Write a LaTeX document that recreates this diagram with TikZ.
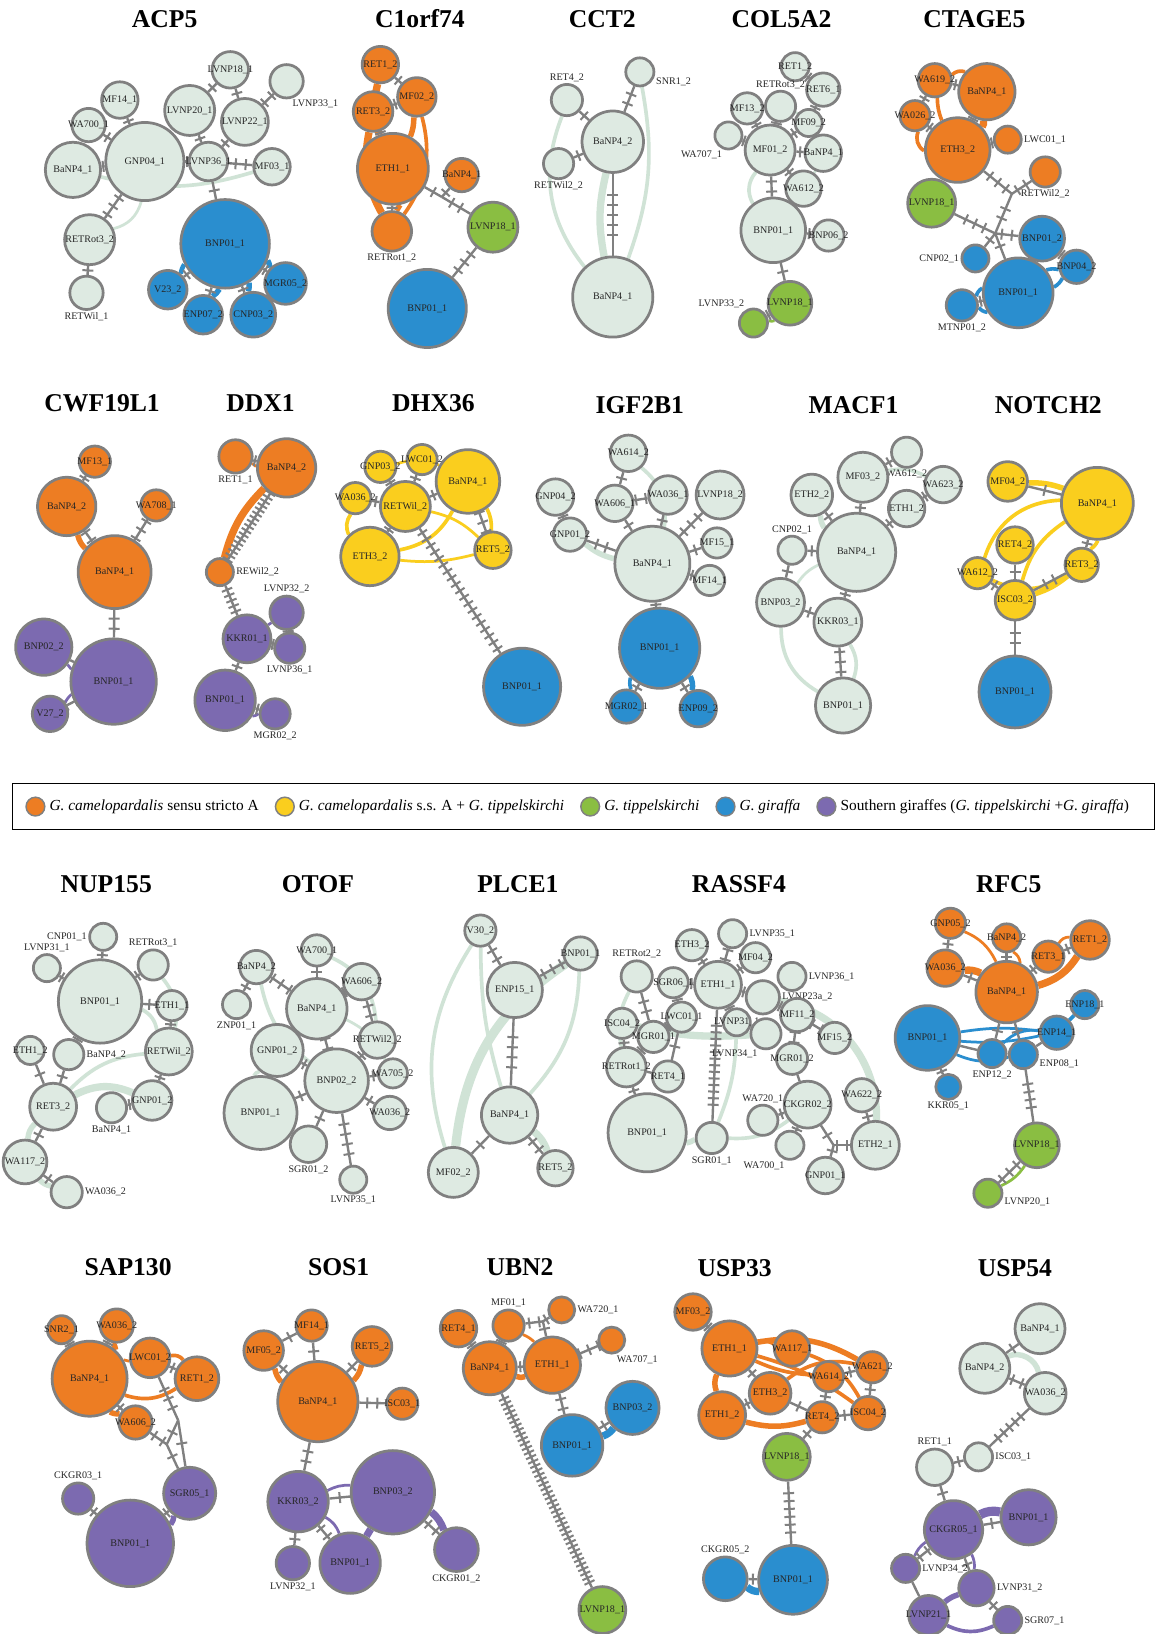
\documentclass[tikz,border=0pt]{standalone}
\usepackage{fontspec}
\setmainfont{Liberation Serif}
\usepackage{tikz}
\usetikzlibrary{positioning, backgrounds, decorations.markings}

\definecolor{lightcolor}{RGB}{222,234,226}
\definecolor{lightline}{RGB}{208,227,214}
\definecolor{orangecolor}{RGB}{237,125,35}
\definecolor{yellowcolor}{RGB}{250,206,30}
\definecolor{greencolor}{RGB}{138,190,66}
\definecolor{bluecolor}{RGB}{42,142,207}
\definecolor{purplecolor}{RGB}{124,106,176}
\definecolor{edgecolor}{RGB}{128,128,128}

\newcommand\labfont{\fontsize{5.5}{6}\selectfont}
\newcommand\genefont{\fontsize{14}{16}\selectfont\bfseries}
\newcommand\legfont{\fontsize{8.4}{10}\selectfont}

\tikzset{
  hap/.style={circle, draw=edgecolor, line width=1.5pt, inner sep=0pt, minimum size=#1*0.02cm},
  hl/.style={hap=#1, fill=lightcolor},
  ho/.style={hap=#1, fill=orangecolor},
  hy/.style={hap=#1, fill=yellowcolor},
  hg/.style={hap=#1, fill=greencolor},
  hb/.style={hap=#1, fill=bluecolor},
  hp/.style={hap=#1, fill=purplecolor},
  every label/.style={font=\labfont, inner sep=0.6pt, text=black!85},
  gene/.style={font=\genefont},
  legtext/.style={font=\legfont, inner sep=0pt},
  grayline/.style={draw=edgecolor, line width=1.3pt},
  tickline/.style={draw=edgecolor, line width=1.1pt},
  mut/.style 2 args={postaction={decorate, decoration={markings, mark=at position 0.5 with {\foreach \k in {1,...,#1} {\draw[tickline] ({(\k-(#1+1)/2)*#2},-3pt) -- ({(\k-(#1+1)/2)*#2},3pt);}}}}},
  mt/.style={grayline, mut={#1}{5.5pt}},
  mtd/.style={grayline, mut={#1}{2.7pt}},
  lline/.style={draw=lightline, line width=#1}, lline/.default=1.5pt,
  oline/.style={draw=orangecolor, line width=#1}, oline/.default=1.5pt,
  yline/.style={draw=yellowcolor, line width=#1}, yline/.default=1.5pt,
  gline/.style={draw=greencolor, line width=#1}, gline/.default=1.5pt,
  bline/.style={draw=bluecolor, line width=#1}, bline/.default=1.5pt,
  pline/.style={draw=purplecolor, line width=#1}, pline/.default=1.5pt,
}

\begin{document}
\begin{tikzpicture}[x=0.02cm, y=-0.02cm]
  \begin{scope}[on background layer]
    \fill[white] (0,0) rectangle (1115,1568);
  \end{scope}
  \useasboundingbox (0,0) rectangle (1115,1568);

  % ACP5
  \node[gene] (g-acp5) at (158,18) {ACP5};
  \node[hl=35, label=center:LVNP18\_1] (a-lvnp18) at (221,67) {};
  \node[hl=32, label=-75:LVNP33\_1] (a-lvnp33) at (275,78) {};
  \node[hl=35, label=center:MF14\_1] (a-mf14) at (115,96) {};
  \node[hl=32, label=center:WA700\_1] (a-wa700) at (85,120) {};
  \node[hl=48, label=center:LVNP20\_1] (a-lvnp20) at (182,106) {};
  \node[hl=45, label=center:LVNP22\_1] (a-lvnp22) at (235,117) {};
  \node[hl=75, label=center:GNP04\_1] (a-gnp04) at (139,155) {};
  \node[hl=53, label=center:BaNP4\_1] (a-banp4) at (70,163) {};
  \node[hl=37, label=center:LVNP36\_1] (a-lvnp36) at (200,155) {};
  \node[hl=35, label=center:MF03\_1] (a-mf03) at (261,160) {};
  \node[hl=48, label=center:RETRot3\_2] (a-retrot3) at (86,230) {};
  \node[hl=32, label=below:RETWil\_1] (a-retwil) at (83,281) {};
  \node[hb=85, label=center:BNP01\_1] (a-bnp01) at (216,234) {};
  \node[hb=37, label=center:V23\_2] (a-v23) at (161,278) {};
  \node[hb=37, label=center:ENP07\_2] (a-enp07) at (195,302) {};
  \node[hb=43, label=center:CNP03\_2] (a-cnp03) at (243,302) {};
  \node[hb=40, label=center:MGR05\_2] (a-mgr05) at (274,272) {};
  \begin{scope}[on background layer]
    \draw[lline=2pt] (a-banp4) to[bend right=15] (a-mf03);
    \draw[lline] (a-gnp04) to[bend left=30] (a-retrot3);
    \draw[bline=2.5pt] (a-bnp01) to[bend right=12] (a-v23);
    \draw[bline=3pt] (a-bnp01) to[bend left=10] (a-enp07);
    \draw[bline=3pt] (a-bnp01) to[bend left=10] (a-cnp03);
    \draw[bline=3pt] (a-bnp01) to[bend left=12] (a-mgr05);
    \draw[mt=1] (a-gnp04) -- (a-banp4);
    \draw[mt=1] (a-gnp04) -- (a-wa700);
    \draw[mt=1] (a-gnp04) -- (a-mf14);
    \draw[mt=1] (a-gnp04) -- (a-lvnp36);
    \draw[mt=3] (a-gnp04) -- (a-retrot3);
    \draw[mt=1] (a-retrot3) -- (a-retwil);
    \draw[mt=1] (a-lvnp36) -- (a-lvnp20);
    \draw[mt=1] (a-lvnp36) -- (a-lvnp22);
    \draw[mt=1] (a-lvnp18) -- (a-lvnp20);
    \draw[mt=1] (a-lvnp18) -- (a-lvnp22);
    \draw[mt=2] (a-lvnp22) -- (a-lvnp33);
    \draw[mt=2] (a-lvnp36) -- (a-mf03);
    \draw[mt=1] (a-lvnp36) -- (a-bnp01);
    \draw[mt=1] (a-bnp01) -- (a-v23);
    \draw[mt=1] (a-bnp01) -- (a-enp07);
    \draw[mt=1] (a-bnp01) -- (a-cnp03);
    \draw[mt=1] (a-bnp01) -- (a-mgr05);
  \end{scope}

  % C1orf74
  \node[gene] (g-c1orf74) at (403,18) {C1orf74};
  \node[ho=35, label=center:RET1\_2] (c-ret12) at (365,62) {};
  \node[ho=37, label=center:MF02\_2] (c-mf02) at (400,93) {};
  \node[ho=38, label=center:RET3\_2] (c-ret32) at (358,107) {};
  \node[ho=68, label=center:ETH1\_1] (c-eth1) at (377,162) {};
  \node[ho=32, label=center:BaNP4\_1] (c-banp4) at (443,168) {};
  \node[ho=38, label=below:RETRot1\_2] (c-retrot1) at (376,222) {};
  \node[hg=48, label=center:LVNP18\_1] (c-lvnp18) at (473,218) {};
  \node[hb=75, label=center:BNP01\_1] (c-bnp01) at (410,296) {};
  \coordinate (c-j) at (424,189);
  \begin{scope}[on background layer]
    \draw[oline=4pt] (c-ret12) to[bend right=15] (c-eth1);
    \draw[oline=4pt] (c-ret32) to[bend right=20] (c-retrot1);
    \draw[oline=3pt] (c-mf02) to[bend left=10] (c-eth1);
    \draw[oline=2pt] (c-mf02) to[bend left=25] (c-retrot1);
    \draw[oline=3pt] (c-eth1) to[bend left=12] (c-retrot1);
    \draw[mt=1] (c-ret12) -- (c-mf02);
    \draw[mt=1] (c-ret32) -- (c-mf02);
    \draw[mt=1] (c-ret32) -- (c-eth1);
    \draw[mt=1] (c-eth1) -- (c-retrot1);
    \draw[mt=1] (c-eth1) -- (c-j);
    \draw[mt=1] (c-banp4) -- (c-j);
    \draw[mt=2] (c-j) -- (c-lvnp18);
    \draw[mt=3] (c-lvnp18) -- (c-bnp01);
  \end{scope}

  % CCT2
  \node[gene] (g-cct2) at (578,18) {CCT2};
  \node[hl=30, label=above:RET4\_2] (t-ret4) at (544,96) {};
  \node[hl=27, label=-15:SNR1\_2] (t-snr1) at (614,69) {};
  \node[hl=29, label=below:RETWil2\_2] (t-retwil2) at (536,157) {};
  \node[hl=59, label=center:BaNP4\_2] (t-banp42) at (588,136) {};
  \node[hl=77, label=center:BaNP4\_1] (t-banp41) at (588,285) {};
  \begin{scope}[on background layer]
    \draw[lline=4pt] (t-banp42) to[bend right=12] (t-banp41);
    \draw[lline=2pt] (t-ret4) to[bend right=30] (t-banp41);
    \draw[lline=2pt] (t-snr1) to[bend left=15] (t-banp41);
    \draw[mt=1] (t-banp42) -- (t-ret4);
    \draw[mt=1] (t-banp42) -- (t-retwil2);
    \draw[mt=2] (t-banp42) -- (t-snr1);
    \draw[mt=5] (t-banp42) -- (t-banp41);
  \end{scope}

  % COL5A2
  \node[gene] (g-col5a2) at (750,18) {COL5A2};
  \node[hl=27, label=center:RET1\_2] (k-ret1) at (763,64) {};
  \node[hl=32, label=center:RET6\_1] (k-ret6) at (790,86) {};
  \node[hl=29, label=above:RETRot3\_2] (k-retrot3) at (749,102) {};
  \node[hl=30, label=center:MF13\_2] (k-mf13) at (717,104) {};
  \node[hl=26, label=-110:WA707\_1] (k-wa707) at (699,130) {};
  \node[hl=26, label=center:MF09\_2] (k-mf09) at (776,118) {};
  \node[hl=48, label=center:MF01\_2] (k-mf01) at (739,144) {};
  \node[hl=35, label=center:BaNP4\_1] (k-banp4) at (790,147) {};
  \node[hl=34, label=center:WA612\_2] (k-wa612) at (771,181) {};
  \node[hl=62, label=center:BNP01\_1] (k-bnp01) at (742,221) {};
  \node[hl=30, label=center:BNP06\_2] (k-bnp06) at (795,226) {};
  \node[hg=42, label=center:LVNP18\_1] (k-lvnp18) at (758,291) {};
  \node[hg=27, label=120:LVNP33\_2] (k-lvnp33) at (723,310) {};
  \begin{scope}[on background layer]
    \draw[lline=2pt] (k-mf01) to[bend right=35] (k-bnp01);
    \draw[lline] (k-retrot3) to[bend left=25] (k-banp4);
    \draw[lline] (k-mf09) to[bend left=30] (k-wa612);
    \draw[gline] (k-lvnp18) to[bend left=20] (k-lvnp33);
    \draw[mt=1] (k-mf01) -- (k-mf13);
    \draw[mt=1] (k-mf01) -- (k-wa707);
    \draw[mt=1] (k-mf01) -- (k-retrot3);
    \draw[mt=1] (k-mf01) -- (k-mf09);
    \draw[mt=1] (k-mf09) -- (k-ret6);
    \draw[mt=1] (k-ret6) -- (k-ret1);
    \draw[mt=1] (k-mf01) -- (k-banp4);
    \draw[mt=1] (k-mf01) -- (k-wa612);
    \draw[mt=2] (k-mf01) -- (k-bnp01);
    \draw[mt=1] (k-bnp01) -- (k-bnp06);
    \draw[mt=1] (k-bnp01) -- (k-lvnp18);
    \draw[mt=1] (k-lvnp18) -- (k-lvnp33);
  \end{scope}

  % CTAGE5
  \node[gene] (g-ctage5) at (935,18) {CTAGE5};
  \node[ho=32, label=center:WA619\_2] (e-wa619) at (897,77) {};
  \node[ho=54, label=center:BaNP4\_1] (e-banp4) at (947,88) {};
  \node[ho=29, label=center:WA026\_2] (e-wa026) at (878,111) {};
  \node[ho=62, label=center:ETH3\_2] (e-eth3) at (919,144) {};
  \node[ho=26, label=right:LWC01\_1] (e-lwc01) at (967,134) {};
  \node[ho=29, label=below:RETWil2\_2] (e-retwil2) at (1003,165) {};
  \node[hg=46, label=center:LVNP18\_1] (e-lvnp18) at (894,195) {};
  \node[hb=43, label=center:BNP01\_2] (e-bnp012) at (1000,229) {};
  \node[hb=26, label=left:CNP02\_1] (e-cnp02) at (936,248) {};
  \node[hb=32, label=center:BNP04\_2] (e-bnp042) at (1033,256) {};
  \node[hb=67, label=center:BNP01\_1] (e-bnp011) at (977,281) {};
  \node[hb=30, label=below:MTNP01\_2] (e-mtnp01) at (923,293) {};
  \coordinate (e-j1) at (971,186);
  \coordinate (e-j2) at (955,224);
  \begin{scope}[on background layer]
    \draw[oline=2pt] (e-wa619) to[bend right=10] (e-eth3);
    \draw[oline=2pt] (e-wa026) to[bend right=40] (e-eth3);
    \draw[oline=4pt] (e-banp4) to[bend left=20] (e-eth3);
    \draw[oline=2pt] (e-wa619) to[bend left=30] (e-banp4);
    \draw[bline=2pt] (e-bnp011) to[bend right=15] (e-bnp042);
    \draw[bline=2pt] (e-bnp011) to[bend left=15] (e-bnp042);
    \draw[bline=2pt] (e-bnp011) to[bend left=20] (e-mtnp01);
    \draw[bline=2pt] (e-bnp011) to[bend right=20] (e-mtnp01);
    \draw[mt=1] (e-wa619) -- (e-banp4);
    \draw[mt=1] (e-wa619) -- (e-wa026);
    \draw[mt=1] (e-wa026) -- (e-eth3);
    \draw[mt=1] (e-eth3) -- (e-banp4);
    \draw[mt=1] (e-eth3) -- (e-lwc01);
    \draw[mt=3] (e-eth3) -- (e-j1);
    \draw[mt=2] (e-j1) -- (e-retwil2);
    \draw[mt=2] (e-j1) -- (e-j2);
    \draw[mt=3] (e-lvnp18) -- (e-j2);
    \draw[mt=2] (e-j2) -- (e-bnp012);
    \draw[mt=1] (e-j2) -- (e-cnp02);
    \draw[mt=1] (e-j2) -- (e-bnp011);
    \draw[mt=1] (e-bnp011) -- (e-mtnp01);
    \draw[mt=1] (e-bnp012) -- (e-bnp042);
  \end{scope}

  % CWF19L1
  \node[gene] (g-cwf19l1) at (98,387) {CWF19L1};
  \node[ho=30, label=center:MF13\_1] (w-mf13) at (91,443) {};
  \node[ho=56, label=center:BaNP4\_2] (w-banp42) at (64,486) {};
  \node[ho=30, label=center:WA708\_1] (w-wa708) at (150,485) {};
  \node[ho=70, label=center:BaNP4\_1] (w-banp41) at (110,549) {};
  \node[hp=54, label=center:BNP02\_2] (w-bnp02) at (42,621) {};
  \node[hp=82, label=center:BNP01\_1] (w-bnp01) at (109,654) {};
  \node[hp=34, label=center:V27\_2] (w-v27) at (48,685) {};
  \begin{scope}[on background layer]
    \draw[oline=3pt] (w-banp42) to[bend right=15] (w-banp41);
    \draw[pline] (w-bnp01) to[bend left=10] (w-bnp02);
    \draw[pline] (w-bnp01) to[bend right=10] (w-v27);
    \draw[mt=1] (w-banp42) -- (w-mf13);
    \draw[mt=2] (w-banp42) -- (w-banp41);
    \draw[mt=3] (w-banp41) -- (w-wa708);
    \draw[mt=2] (w-banp41) -- (w-bnp01);
    \draw[mt=2] (w-bnp01) -- (w-bnp02);
    \draw[mt=2] (w-bnp01) -- (w-v27);
  \end{scope}

  % DDX1
  \node[gene] (g-ddx1) at (250,387) {DDX1};
  \node[ho=32, label=below:RET1\_1] (d-ret1) at (226,438) {};
  \node[ho=56, label=center:BaNP4\_2] (d-banp42) at (275,449) {};
  \node[ho=26, label=right:REWil2\_2] (d-rewil2) at (211,549) {};
  \node[hp=46, label=center:KKR01\_1] (d-kkr01) at (237,613) {};
  \node[hp=32, label=above:LVNP32\_2] (d-lvnp32) at (275,588) {};
  \node[hp=29, label=below:LVNP36\_1] (d-lvnp36) at (278,622) {};
  \node[hp=58, label=center:BNP01\_1] (d-bnp01) at (216,672) {};
  \node[hp=29, label=below:MGR02\_2] (d-mgr02) at (264,685) {};
  \begin{scope}[on background layer]
    \draw[oline] (d-ret1) to[bend right=10] (d-banp42);
    \draw[oline=4pt] (d-rewil2) to[bend left=15] (d-banp42);
    \draw[pline] (d-kkr01) -- (d-lvnp32);
    \draw[pline] (d-bnp01) to[bend right=15] (d-mgr02);
    \draw[mt=1] (d-ret1) -- (d-banp42);
    \draw[mtd=17] (d-banp42) -- (d-rewil2);
    \draw[grayline, mut={5}{3.2pt}] (d-rewil2) -- (d-kkr01);
    \draw[mt=1] (d-kkr01) -- (d-lvnp36);
    \draw[mt=1] (d-lvnp32) -- (d-lvnp36);
    \draw[mt=1] (d-kkr01) -- (d-bnp01);
    \draw[mt=1] (d-bnp01) -- (d-mgr02);
  \end{scope}

  % DHX36
  \node[gene] (g-dhx36) at (416,387) {DHX36};
  \node[hy=30, label=center:GNP03\_2] (h-gnp03) at (365,448) {};
  \node[hy=29, label=center:LWC01\_2] (h-lwc01) at (405,441) {};
  \node[hy=30, label=center:WA036\_2] (h-wa036) at (341,478) {};
  \node[hy=48, label=center:RETWil\_2] (h-retwil) at (389,486) {};
  \node[hy=61, label=center:BaNP4\_1] (h-banp4) at (449,462) {};
  \node[hy=56, label=center:ETH3\_2] (h-eth3) at (355,534) {};
  \node[hy=35, label=center:RET5\_2] (h-ret5) at (473,528) {};
  \node[hb=74, label=center:BNP01\_1] (h-bnp01) at (501,659) {};
  \begin{scope}[on background layer]
    \draw[yline] (h-gnp03) to[bend left=20] (h-banp4);
    \draw[yline=2pt] (h-wa036) to[bend right=30] (h-eth3);
    \draw[yline=2pt] (h-eth3) to[bend right=25] (h-banp4);
    \draw[yline] (h-eth3) to[bend right=10] (h-ret5);
    \draw[yline] (h-retwil) to[bend left=15] (h-ret5);
    \draw[yline=2pt] (h-banp4) to[bend left=15] (h-ret5);
    \draw[mt=1] (h-gnp03) -- (h-retwil);
    \draw[mt=1] (h-lwc01) -- (h-retwil);
    \draw[mt=1] (h-wa036) -- (h-retwil);
    \draw[mt=1] (h-retwil) -- (h-banp4);
    \draw[mt=1] (h-retwil) -- (h-eth3);
    \draw[mt=3] (h-banp4) -- (h-ret5);
    \draw[grayline, mut={19}{4.2pt}] (h-retwil) -- (h-bnp01);
  \end{scope}

  % IGF2B1
  \node[gene] (g-igf2b1) at (614,389) {IGF2B1};
  \node[hl=35, label=center:WA614\_2] (i-wa614) at (603,435) {};
  \node[hl=35, label=center:GNP04\_2] (i-gnp04) at (533,477) {};
  \node[hl=35, label=center:WA606\_1] (i-wa606) at (590,483) {};
  \node[hl=37, label=center:WA036\_1] (i-wa036) at (641,475) {};
  \node[hl=46, label=center:LVNP18\_2] (i-lvnp18) at (691,475) {};
  \node[hl=32, label=center:GNP01\_2] (i-gnp01) at (547,513) {};
  \node[hl=72, label=center:BaNP4\_1] (i-banp4) at (626,541) {};
  \node[hl=29, label=center:MF15\_1] (i-mf15) at (688,521) {};
  \node[hl=29, label=center:MF14\_1] (i-mf14) at (681,557) {};
  \node[hb=77, label=center:BNP01\_1] (i-bnp01) at (633,622) {};
  \node[hb=32, label=center:MGR02\_1] (i-mgr02) at (601,678) {};
  \node[hb=35, label=center:ENP09\_2] (i-enp09) at (670,680) {};
  \begin{scope}[on background layer]
    \draw[lline=2pt] (i-wa614) to[bend left=30] (i-banp4);
    \draw[lline=3pt] (i-gnp01) to[bend right=12] (i-banp4);
    \draw[bline=2pt] (i-bnp01) to[bend right=15] (i-mgr02);
    \draw[bline=3pt] (i-bnp01) to[bend left=15] (i-enp09);
    \draw[mt=1] (i-wa614) -- (i-wa606);
    \draw[mt=2] (i-wa606) -- (i-wa036);
    \draw[mt=1] (i-wa606) -- (i-banp4);
    \draw[mt=1] (i-wa036) -- (i-banp4);
    \draw[mt=3] (i-lvnp18) -- (i-banp4);
    \draw[mt=1] (i-mf15) -- (i-banp4);
    \draw[mt=1] (i-mf14) -- (i-banp4);
    \draw[mt=1] (i-gnp04) -- (i-gnp01);
    \draw[mt=2] (i-gnp01) -- (i-banp4);
    \draw[mt=1] (i-banp4) -- (i-bnp01);
    \draw[mt=1] (i-bnp01) -- (i-mgr02);
    \draw[mt=1] (i-bnp01) -- (i-enp09);
  \end{scope}

  % MACF1
  \node[gene] (g-macf1) at (819,389) {MACF1};
  \node[hl=29, label=below:WA612\_2] (m-wa612) at (870,434) {};
  \node[hl=48, label=center:MF03\_2] (m-mf03) at (828,458) {};
  \node[hl=35, label=center:WA623\_2] (m-wa623) at (905,465) {};
  \node[hl=40, label=center:ETH2\_2] (m-eth2) at (779,475) {};
  \node[hl=35, label=center:ETH1\_2] (m-eth1) at (870,488) {};
  \node[hl=27, label=above:CNP02\_1] (m-cnp02) at (760,528) {};
  \node[hl=75, label=center:BaNP4\_1] (m-banp4) at (822,530) {};
  \node[hl=46, label=center:BNP03\_2] (m-bnp03) at (749,578) {};
  \node[hl=46, label=center:KKR03\_1] (m-kkr03) at (804,597) {};
  \node[hl=53, label=center:BNP01\_1] (m-bnp01) at (809,677) {};
  \begin{scope}[on background layer]
    \draw[lline=2pt] (m-bnp03) to[bend right=30] (m-bnp01);
    \draw[lline=2pt] (m-kkr03) to[bend left=25] (m-bnp01);
    \draw[lline=3pt] (m-eth2) to[bend right=15] (m-banp4);
    \draw[lline=2pt] (m-mf03) to[bend left=20] (m-wa623);
    \draw[lline] (m-bnp03) to[bend left=15] (m-banp4);
    \draw[mt=1] (m-mf03) -- (m-wa612);
    \draw[mt=1] (m-mf03) -- (m-banp4);
    \draw[mt=1] (m-wa623) -- (m-eth1);
    \draw[mt=1] (m-eth1) -- (m-banp4);
    \draw[mt=1] (m-eth2) -- (m-banp4);
    \draw[mt=1] (m-cnp02) -- (m-banp4);
    \draw[mt=1] (m-cnp02) -- (m-bnp03);
    \draw[mt=1] (m-bnp03) -- (m-kkr03);
    \draw[mt=1] (m-banp4) -- (m-kkr03);
    \draw[mt=3] (m-kkr03) -- (m-bnp01);
  \end{scope}

  % NOTCH2
  \node[gene] (g-notch2) at (1006,389) {NOTCH2};
  \node[hy=38, label=center:MF04\_2] (n-mf04) at (967,462) {};
  \node[hy=69, label=center:BaNP4\_1] (n-banp4) at (1053,483) {};
  \node[hy=35, label=center:RET4\_2] (n-ret4) at (974,523) {};
  \node[hy=30, label=center:WA612\_2] (n-wa612) at (938,550) {};
  \node[hy=32, label=center:RET3\_2] (n-ret3) at (1038,542) {};
  \node[hy=38, label=center:ISC03\_2] (n-isc03) at (974,576) {};
  \node[hb=69, label=center:BNP01\_1] (n-bnp01) at (974,664) {};
  \begin{scope}[on background layer]
    \draw[yline=3pt] (n-mf04) to[bend left=10] (n-banp4);
    \draw[yline=2pt] (n-banp4) to[bend left=15] (n-ret3);
    \draw[yline=3pt] (n-isc03) to[bend right=10] (n-ret3);
    \draw[yline=2pt] (n-banp4) to[bend right=35] (n-wa612);
    \draw[yline=2pt] (n-banp4) to[bend right=20] (n-isc03);
    \draw[yline=2pt] (n-wa612) to[bend right=30] (n-ret3);
    \draw[mt=1] (n-mf04) -- (n-banp4);
    \draw[mt=1] (n-banp4) -- (n-ret3);
    \draw[mt=1] (n-ret4) -- (n-isc03);
    \draw[mt=1] (n-wa612) -- (n-isc03);
    \draw[mt=2] (n-isc03) -- (n-ret3);
    \draw[mt=2] (n-isc03) -- (n-bnp01);
  \end{scope}

  % Legend
  \node[draw, line width=0.9pt, minimum width=1096*0.02cm, minimum height=44*0.02cm, inner sep=0pt] (legend) at (560,774) {};
  \node[ho=18, line width=0.8pt] (key-o) at (34,774) {};
  \node[legtext, right=0.07cm of key-o] (key-o-text) {\textit{G. camelopardalis} sensu stricto A};
  \node[hy=18, line width=0.8pt, right=0.3cm of key-o-text] (key-y) {};
  \node[legtext, right=0.07cm of key-y] (key-y-text) {\textit{G. camelopardalis} s.s. A + \textit{G. tippelskirchi}};
  \node[hg=18, line width=0.8pt, right=0.3cm of key-y-text] (key-g) {};
  \node[legtext, right=0.07cm of key-g] (key-g-text) {\textit{G. tippelskirchi}};
  \node[hb=18, line width=0.8pt, right=0.3cm of key-g-text] (key-b) {};
  \node[legtext, right=0.07cm of key-b] (key-b-text) {\textit{G. giraffa}};
  \node[hp=18, line width=0.8pt, right=0.3cm of key-b-text] (key-p) {};
  \node[legtext, right=0.07cm of key-p] (key-p-text) {Southern giraffes (\textit{G. tippelskirchi} +\textit{G. giraffa})};

  % NUP155
  \node[gene] (g-nup155) at (102,848) {NUP155};
  \node[hl=26, label=left:CNP01\_1] (u-cnp01) at (99,899) {};
  \node[hl=26, label=above:LVNP31\_1] (u-lvnp31) at (45,929) {};
  \node[hl=29, label=above:RETRot3\_1] (u-retrot3) at (147,926) {};
  \node[hl=80, label=center:BNP01\_1] (u-bnp01) at (96,961) {};
  \node[hl=29, label=center:ETH1\_1] (u-eth11) at (165,965) {};
  \node[hl=27, label=center:ETH1\_2] (u-eth12) at (29,1008) {};
  \node[hl=29, label=right:BaNP4\_2] (u-banp42) at (66,1012) {};
  \node[hl=45, label=center:RETWil\_2] (u-retwil) at (162,1009) {};
  \node[hl=45, label=center:RET3\_2] (u-ret3) at (51,1062) {};
  \node[hl=29, label=below:BaNP4\_1] (u-banp41) at (107,1063) {};
  \node[hl=38, label=center:GNP01\_2] (u-gnp01) at (146,1056) {};
  \node[hl=42, label=center:WA117\_2] (u-wa117) at (24,1115) {};
  \node[hl=30, label=right:WA036\_2] (u-wa036) at (64,1144) {};
  \begin{scope}[on background layer]
    \draw[lline=4pt] (u-ret3) to[bend left=25] (u-gnp01);
    \draw[lline=2pt] (u-ret3) to[bend left=20] (u-retwil);
    \draw[lline=2pt] (u-bnp01) to[bend left=25] (u-retwil);
    \draw[lline=2pt] (u-retrot3) to[bend left=25] (u-retwil);
    \draw[lline=3pt] (u-ret3) to[bend right=20] (u-wa117);
    \draw[lline=3pt] (u-wa117) to[bend right=15] (u-wa036);
    \draw[mt=1] (u-bnp01) -- (u-cnp01);
    \draw[mt=1] (u-bnp01) -- (u-lvnp31);
    \draw[mt=1] (u-bnp01) -- (u-retrot3);
    \draw[mt=1] (u-bnp01) -- (u-eth11);
    \draw[mt=1] (u-eth11) -- (u-retwil);
    \draw[mt=1] (u-bnp01) -- (u-banp42);
    \draw[mt=1] (u-banp42) -- (u-ret3);
    \draw[mt=1] (u-eth12) -- (u-ret3);
    \draw[mt=1] (u-retwil) -- (u-gnp01);
    \draw[mt=1] (u-gnp01) -- (u-banp41);
    \draw[mt=1] (u-ret3) -- (u-wa117);
    \draw[mt=1] (u-wa117) -- (u-wa036);
  \end{scope}

  % OTOF
  \node[gene] (g-otof) at (305,848) {OTOF};
  \node[hl=30, label=center:WA700\_1] (o-wa700) at (304,912) {};
  \node[hl=32, label=center:BaNP4\_2] (o-banp42) at (246,928) {};
  \node[hl=35, label=center:WA606\_2] (o-wa606) at (347,942) {};
  \node[hl=27, label=below:ZNP01\_1] (o-znp01) at (227,964) {};
  \node[hl=58, label=center:BaNP4\_1] (o-banp41) at (304,968) {};
  \node[hl=35, label=center:RETWil2\_2] (o-retwil2) at (362,998) {};
  \node[hl=50, label=center:GNP01\_2] (o-gnp01) at (266,1008) {};
  \node[hl=61, label=center:BNP02\_2] (o-bnp02) at (323,1037) {};
  \node[hl=28, label=center:WA705\_2] (o-wa705) at (377,1030) {};
  \node[hl=32, label=center:WA036\_2] (o-wa036) at (374,1068) {};
  \node[hl=70, label=center:BNP01\_1] (o-bnp01) at (250,1068) {};
  \node[hl=35, label=below:SGR01\_2] (o-sgr01) at (296,1098) {};
  \node[hl=26, label=below:LVNP35\_1] (o-lvnp35) at (339,1132) {};
  \begin{scope}[on background layer]
    \draw[lline=2pt] (o-banp42) to[bend right=20] (o-bnp02);
    \draw[lline=2pt] (o-wa700) to[bend left=30] (o-retwil2);
    \draw[lline] (o-banp41) to[bend left=20] (o-wa705);
    \draw[lline=2pt] (o-gnp01) to[bend right=25] (o-bnp01);
    \draw[mt=1] (o-banp42) -- (o-znp01);
    \draw[mt=3] (o-banp42) -- (o-banp41);
    \draw[mt=1] (o-wa700) -- (o-banp41);
    \draw[mt=1] (o-wa606) -- (o-banp41);
    \draw[mt=2] (o-wa606) -- (o-retwil2);
    \draw[mt=2] (o-banp41) -- (o-bnp02);
    \draw[mt=1] (o-retwil2) -- (o-bnp02);
    \draw[mt=1] (o-gnp01) -- (o-bnp02);
    \draw[mt=1] (o-bnp01) -- (o-bnp02);
    \draw[mt=1] (o-wa705) -- (o-bnp02);
    \draw[mt=1] (o-wa036) -- (o-bnp02);
    \draw[mt=1] (o-sgr01) -- (o-bnp02);
    \draw[mt=4] (o-bnp02) -- (o-lvnp35);
  \end{scope}

  % PLCE1
  \node[gene] (g-plce1) at (497,848) {PLCE1};
  \node[hl=30, label=center:V30\_2] (p-v30) at (461,893) {};
  \node[hl=32, label=center:BNP01\_1] (p-bnp01) at (557,915) {};
  \node[hl=53, label=center:ENP15\_1] (p-enp15) at (494,950) {};
  \node[hl=54, label=center:BaNP4\_1] (p-banp4) at (489,1070) {};
  \node[hl=48, label=center:MF02\_2] (p-mf02) at (435,1125) {};
  \node[hl=34, label=center:RET5\_2] (p-ret5) at (533,1121) {};
  \begin{scope}[on background layer]
    \draw[lline=2pt] (p-v30) to[bend right=25] (p-mf02);
    \draw[lline=2pt] (p-v30) to[bend right=8] (p-banp4);
    \draw[lline=5pt] (p-bnp01) to[bend right=25] (p-mf02);
    \draw[lline=2pt] (p-bnp01) to[bend left=20] (p-banp4);
    \draw[lline=4pt] (p-banp4) to[bend left=15] (p-ret5);
    \draw[mt=2] (p-v30) -- (p-enp15);
    \draw[mt=3] (p-enp15) -- (p-bnp01);
    \draw[mt=4] (p-enp15) -- (p-banp4);
    \draw[mt=1] (p-banp4) -- (p-mf02);
    \draw[mt=2] (p-banp4) -- (p-ret5);
  \end{scope}

  % RASSF4
  \node[gene] (g-rassf4) at (709,848) {RASSF4};
  \node[hl=27, label=right:LVNP35\_1] (r-lvnp35) at (703,896) {};
  \node[hl=30, label=center:ETH3\_2] (r-eth3) at (664,907) {};
  \node[hl=29, label=center:MF04\_2] (r-mf04) at (725,919) {};
  \node[hl=30, label=above:RETRot2\_2] (r-retrot2) at (611,937) {};
  \node[hl=29, label=center:SGR06\_1] (r-sgr06) at (646,943) {};
  \node[hl=45, label=center:ETH1\_1] (r-eth1) at (689,945) {};
  \node[hl=27, label=right:LVNP36\_1] (r-lvnp36) at (760,937) {};
  \node[hl=32, label=right:LVNP23a\_2] (r-lvnp23a) at (732,957) {};
  \node[hl=29, label=center:LWC01\_1] (r-lwc01) at (654,976) {};
  \node[hl=29, label=center:ISC04\_2] (r-isc04) at (597,982) {};
  \node[hl=26, label=center:LVNP31\_1] (r-lvnp31) at (707,981) {};
  \node[hl=29, label=-115:LVNP34\_1] (r-lvnp34) at (735,992) {};
  \node[hl=30, label=center:MGR01\_1] (r-mgr011) at (627,995) {};
  \node[hl=38, label=center:RETRot1\_2] (r-retrot1) at (601,1024) {};
  \node[hl=30, label=center:RET4\_1] (r-ret4) at (641,1033) {};
  \node[hl=75, label=center:BNP01\_1] (r-bnp01) at (621,1087) {};
  \node[hl=30, label=below:SGR01\_1] (r-sgr01) at (683,1092) {};
  \node[hl=32, label=center:MF11\_2] (r-mf11) at (765,974) {};
  \node[hl=30, label=center:MF15\_2] (r-mf15) at (801,996) {};
  \node[hl=30, label=center:MGR01\_2] (r-mgr012) at (760,1016) {};
  \node[hl=45, label=center:CKGR02\_2] (r-ckgr02) at (775,1060) {};
  \node[hl=29, label=above:WA720\_1] (r-wa720) at (732,1075) {};
  \node[hl=32, label=center:WA622\_2] (r-wa622) at (827,1051) {};
  \node[hl=27, label=-105:WA700\_1] (r-wa700) at (758,1099) {};
  \node[hl=35, label=center:GNP01\_1] (r-gnp01) at (792,1128) {};
  \node[hl=46, label=center:ETH2\_1] (r-eth2) at (840,1099) {};
  \coordinate (r-j) at (800,1099);
  \begin{scope}[on background layer]
    \draw[lline=4pt] (r-isc04) to[bend right=8] (r-lvnp34);
    \draw[lline=4pt] (r-lvnp23a) to[bend left=40] (r-eth2);
    \draw[lline=3pt] (r-bnp01) to[bend right=10] (r-sgr01);
    \draw[lline=2pt] (r-sgr01) to[bend right=20] (r-ckgr02);
    \draw[lline=2pt] (r-lvnp31) to[bend left=10] (r-sgr01);
    \draw[lline=2pt] (r-retrot2) to[bend right=20] (r-retrot1);
    \draw[mt=1] (r-eth1) -- (r-eth3);
    \draw[mt=2] (r-eth1) -- (r-lvnp35);
    \draw[mt=1] (r-eth1) -- (r-mf04);
    \draw[mt=1] (r-eth1) -- (r-sgr06);
    \draw[mt=1] (r-eth1) -- (r-lvnp23a);
    \draw[mt=1] (r-eth1) -- (r-lvnp31);
    \draw[grayline, mut={13}{3.6pt}] (r-eth1) -- (r-sgr01);
    \draw[mt=1] (r-sgr06) -- (r-lwc01);
    \draw[mt=2] (r-retrot2) -- (r-mgr011);
    \draw[mt=1] (r-lwc01) -- (r-mgr011);
    \draw[mt=1] (r-mgr011) -- (r-retrot1);
    \draw[mt=1] (r-isc04) -- (r-retrot1);
    \draw[grayline] (r-retrot1) -- (r-ret4);
    \draw[mt=1] (r-lwc01) -- (r-ret4);
    \draw[mt=1] (r-retrot1) -- (r-bnp01);
    \draw[mt=1] (r-lvnp23a) -- (r-mf11);
    \draw[mt=2] (r-mf11) -- (r-mf15);
    \draw[mt=2] (r-mf11) -- (r-mgr012);
    \draw[mt=2] (r-mgr012) -- (r-ckgr02);
    \draw[mt=1] (r-ckgr02) -- (r-wa720);
    \draw[mt=1] (r-ckgr02) -- (r-wa700);
    \draw[mt=1] (r-ckgr02) -- (r-j);
    \draw[mt=1] (r-j) -- (r-gnp01);
    \draw[mt=2] (r-j) -- (r-eth2);
    \draw[mt=1] (r-wa622) -- (r-eth2);
  \end{scope}

  % RFC5
  \node[gene] (g-rfc5) at (968,848) {RFC5};
  \node[ho=29, label=center:GNP05\_2] (f-gnp05) at (912,886) {};
  \node[ho=27, label=center:BaNP4\_2] (f-banp42) at (966,900) {};
  \node[ho=37, label=center:RET1\_2] (f-ret1) at (1046,902) {};
  \node[ho=30, label=center:RET3\_1] (f-ret3) at (1006,918) {};
  \node[ho=35, label=center:WA036\_2] (f-wa036) at (907,929) {};
  \node[ho=59, label=center:BaNP4\_1] (f-banp41) at (966,952) {};
  \node[hb=27, label=center:ENP18\_1] (f-enp18) at (1041,964) {};
  \node[hb=62, label=center:BNP01\_1] (f-bnp01) at (890,996) {};
  \node[hb=32, label=center:ENP14\_1] (f-enp14) at (1014,991) {};
  \node[hb=27, label=below:ENP12\_2] (f-enp12) at (952,1011) {};
  \node[hb=27, label=-15:ENP08\_1] (f-enp08) at (982,1012) {};
  \node[hb=24, label=below:KKR05\_1] (f-kkr05) at (910,1043) {};
  \node[hg=43, label=center:LVNP18\_1] (f-lvnp18) at (995,1099) {};
  \node[hg=27, label=-10:LVNP20\_1] (f-lvnp20) at (948,1145) {};
  \begin{scope}[on background layer]
    \draw[oline=4pt] (f-wa036) to[bend left=15] (f-banp41);
    \draw[oline] (f-gnp05) to[bend left=20] (f-banp41);
    \draw[oline] (f-banp42) to[bend left=25] (f-banp41);
    \draw[oline] (f-ret3) to[bend left=30] (f-ret1);
    \draw[oline=4pt] (f-banp41) to[bend right=20] (f-ret1);
    \draw[bline] (f-bnp01) to[bend left=8] (f-enp14);
    \draw[bline] (f-bnp01) to[bend right=8] (f-enp14);
    \draw[bline] (f-bnp01) to[bend right=20] (f-enp08);
    \draw[bline] (f-enp12) to[bend left=25] (f-enp14);
    \draw[bline=2pt] (f-enp14) -- (f-enp18);
    \draw[gline] (f-lvnp18) to[bend left=15] (f-lvnp20);
    \draw[mt=1] (f-gnp05) -- (f-wa036);
    \draw[mt=1] (f-wa036) -- (f-banp41);
    \draw[mt=1] (f-banp42) -- (f-banp41);
    \draw[mt=1] (f-ret3) -- (f-banp41);
    \draw[mt=1] (f-ret3) -- (f-ret1);
    \draw[mt=1] (f-banp41) -- (f-enp12);
    \draw[mt=1] (f-banp41) -- (f-enp08);
    \draw[mt=2] (f-enp14) -- (f-enp08);
    \draw[grayline] (f-bnp01) -- (f-enp12);
    \draw[mt=1] (f-bnp01) -- (f-kkr05);
    \draw[grayline, mut={4}{4.3pt}] (f-enp08) -- (f-lvnp18);
    \draw[mt=3] (f-lvnp18) -- (f-lvnp20);
  \end{scope}

  % SAP130
  \node[gene] (g-sap130) at (123,1216) {SAP130};
  \node[ho=27, label=center:SNR2\_1] (s-snr2) at (59,1276) {};
  \node[ho=32, label=center:WA036\_2] (s-wa036) at (112,1272) {};
  \node[ho=72, label=center:BaNP4\_1] (s-banp4) at (86,1323) {};
  \node[ho=38, label=center:LWC01\_2] (s-lwc01) at (144,1303) {};
  \node[ho=42, label=center:RET1\_2] (s-ret1) at (189,1323) {};
  \node[ho=32, label=center:WA606\_2] (s-wa606) at (130,1365) {};
  \node[hp=30, label=above:CKGR03\_1] (s-ckgr03) at (75,1438) {};
  \node[hp=50, label=center:SGR05\_1] (s-sgr05) at (182,1433) {};
  \node[hp=83, label=center:BNP01\_1] (s-bnp01) at (125,1481) {};
  \coordinate (s-ja) at (171,1363);
  \coordinate (s-jb) at (160,1386);
  \begin{scope}[on background layer]
    \draw[oline=3pt] (s-wa036) to[bend left=15] (s-banp4);
    \draw[oline=3pt] (s-banp4) to[bend right=15] (s-wa606);
    \draw[oline=2pt] (s-lwc01) to[bend left=30] (s-ret1);
    \draw[oline=2pt] (s-banp4) to[bend right=25] (s-ret1);
    \draw[oline] (s-banp4) to[bend left=10] (s-lwc01);
    \draw[pline=3pt] (s-bnp01) to[bend right=15] (s-sgr05);
    \draw[mt=1] (s-snr2) -- (s-banp4);
    \draw[mt=1] (s-wa036) -- (s-banp4);
    \draw[mt=1] (s-banp4) -- (s-wa606);
    \draw[mt=1] (s-lwc01) -- (s-ret1);
    \draw[mt=3] (s-lwc01) -- (s-ja);
    \draw[mt=1] (s-ja) -- (s-jb);
    \draw[mt=2] (s-wa606) -- (s-jb);
    \draw[mt=1] (s-ja) -- (s-sgr05);
    \draw[mt=1] (s-jb) -- (s-sgr05);
    \draw[mt=1] (s-ckgr03) -- (s-bnp01);
    \draw[mt=1] (s-bnp01) -- (s-sgr05);
  \end{scope}

  % SOS1
  \node[gene] (g-sos1) at (325,1216) {SOS1};
  \node[ho=30, label=center:MF14\_1] (q-mf14) at (299,1272) {};
  \node[ho=38, label=center:MF05\_2] (q-mf05) at (253,1296) {};
  \node[ho=38, label=center:RET5\_2] (q-ret5) at (357,1292) {};
  \node[ho=77, label=center:BaNP4\_1] (q-banp4) at (305,1345) {};
  \node[ho=30, label=center:ISC03\_1] (q-isc03) at (386,1347) {};
  \node[hp=58, label=center:KKR03\_2] (q-kkr03) at (286,1441) {};
  \node[hp=80, label=center:BNP03\_2] (q-bnp03) at (377,1432) {};
  \node[hp=32, label=below:LVNP32\_1] (q-lvnp32) at (281,1500) {};
  \node[hp=58, label=center:BNP01\_1] (q-bnp01) at (336,1500) {};
  \node[hp=42, label=below:CKGR01\_2] (q-ckgr01) at (438,1487) {};
  \begin{scope}[on background layer]
    \draw[oline=3pt] (q-mf05) to[bend right=15] (q-banp4);
    \draw[oline=3pt] (q-ret5) to[bend left=15] (q-banp4);
    \draw[pline] (q-kkr03) to[bend left=15] (q-bnp03);
    \draw[pline] (q-kkr03) to[bend left=20] (q-bnp01);
    \draw[pline=4pt] (q-bnp03) -- (q-bnp01);
    \draw[pline=4pt] (q-bnp03) to[bend left=15] (q-ckgr01);
    \draw[mt=1] (q-mf14) -- (q-mf05);
    \draw[mt=1] (q-mf14) -- (q-banp4);
    \draw[mt=1] (q-mf05) -- (q-banp4);
    \draw[mt=1] (q-ret5) -- (q-banp4);
    \draw[mt=2] (q-banp4) -- (q-isc03);
    \draw[mt=2] (q-banp4) -- (q-kkr03);
    \draw[mt=1] (q-kkr03) -- (q-bnp03);
    \draw[mt=1] (q-kkr03) -- (q-lvnp32);
    \draw[mt=2] (q-kkr03) -- (q-bnp01);
    \draw[mt=2] (q-bnp03) -- (q-ckgr01);
  \end{scope}

  % UBN2
  \node[gene] (g-ubn2) at (499,1216) {UBN2};
  \node[ho=30, label=above:MF01\_1] (b-mf01) at (488,1272) {};
  \node[ho=25, label=right:WA720\_1] (b-wa720) at (539,1257) {};
  \node[ho=35, label=center:RET4\_1] (b-ret4) at (440,1275) {};
  \node[ho=25, label=-75:WA707\_1] (b-wa707) at (587,1286) {};
  \node[ho=51, label=center:BaNP4\_1] (b-banp4) at (470,1313) {};
  \node[ho=54, label=center:ETH1\_1] (b-eth1) at (530,1310) {};
  \node[hb=51, label=center:BNP03\_2] (b-bnp03) at (607,1351) {};
  \node[hb=59, label=center:BNP01\_1] (b-bnp01) at (549,1387) {};
  \node[hg=45, label=center:LVNP18\_1] (b-lvnp18) at (578,1545) {};
  \coordinate (b-j) at (521,1268);
  \begin{scope}[on background layer]
    \draw[oline=3pt] (b-banp4) to[bend right=20] (b-eth1);
    \draw[oline] (b-mf01) to[bend left=10] (b-eth1);
    \draw[bline=4pt] (b-bnp01) to[bend right=15] (b-bnp03);
    \draw[mt=1] (b-ret4) -- (b-banp4);
    \draw[mt=1] (b-mf01) -- (b-banp4);
    \draw[mt=2] (b-mf01) -- (b-j);
    \draw[mt=1] (b-j) -- (b-wa720);
    \draw[mt=1] (b-j) -- (b-eth1);
    \draw[mt=1] (b-banp4) -- (b-eth1);
    \draw[mt=3] (b-eth1) -- (b-wa707);
    \draw[mt=2] (b-eth1) -- (b-bnp01);
    \draw[mt=1] (b-bnp01) -- (b-bnp03);
    \draw[mtd=42] (b-banp4) -- (b-lvnp18);
  \end{scope}

  % USP33
  \node[gene] (g-usp33) at (705,1217) {USP33};
  \node[ho=35, label=center:MF03\_2] (x-mf03) at (665,1259) {};
  \node[ho=53, label=center:ETH1\_1] (x-eth11) at (700,1294) {};
  \node[ho=34, label=center:WA117\_1] (x-wa117) at (760,1294) {};
  \node[ho=30, label=center:WA621\_2] (x-wa621) at (837,1312) {};
  \node[ho=29, label=center:WA614\_2] (x-wa614) at (795,1321) {};
  \node[ho=40, label=center:ETH3\_2] (x-eth3) at (739,1337) {};
  \node[ho=45, label=center:ETH1\_2] (x-eth12) at (693,1358) {};
  \node[ho=30, label=center:RET4\_2] (x-ret4) at (789,1360) {};
  \node[ho=32, label=center:ISC04\_2] (x-isc04) at (833,1356) {};
  \node[hg=45, label=center:LVNP18\_1] (x-lvnp18) at (755,1398) {};
  \node[hb=42, label=above:CKGR05\_2] (x-ckgr05) at (696,1515) {};
  \node[hb=66, label=center:BNP01\_1] (x-bnp01) at (761,1516) {};
  \begin{scope}[on background layer]
    \draw[oline=2pt] (x-eth11) to[bend left=15] (x-wa117);
    \draw[oline=3pt] (x-eth11) to[bend left=20] (x-wa621);
    \draw[oline=2pt] (x-eth11) to[bend left=10] (x-isc04);
    \draw[oline=2pt] (x-eth11) to[bend right=10] (x-wa614);
    \draw[oline=3pt] (x-eth12) to[bend left=20] (x-eth11);
    \draw[oline=3pt] (x-eth12) to[bend right=15] (x-ret4);
    \draw[oline=2pt] (x-wa117) to[bend left=20] (x-isc04);
    \draw[oline=2pt] (x-eth3) to[bend left=25] (x-wa621);
    \draw[bline=4pt] (x-ckgr05) to[bend right=20] (x-bnp01);
    \draw[mt=1] (x-mf03) -- (x-eth11);
    \draw[mt=1] (x-eth11) -- (x-eth3);
    \draw[mt=1] (x-eth12) -- (x-eth3);
    \draw[mt=1] (x-eth3) -- (x-ret4);
    \draw[mt=1] (x-wa614) -- (x-ret4);
    \draw[mt=1] (x-wa614) -- (x-wa621);
    \draw[mt=1] (x-wa621) -- (x-isc04);
    \draw[mt=1] (x-ret4) -- (x-isc04);
    \draw[mt=1] (x-ret4) -- (x-lvnp18);
    \draw[grayline, mut={6}{4.3pt}] (x-lvnp18) -- (x-bnp01);
    \draw[mt=1] (x-ckgr05) -- (x-bnp01);
  \end{scope}

  % USP54
  \node[gene] (g-usp54) at (974,1217) {USP54};
  \node[hl=48, label=center:BaNP4\_1] (y-banp41) at (998,1275) {};
  \node[hl=48, label=center:BaNP4\_2] (y-banp42) at (945,1313) {};
  \node[hl=40, label=center:WA036\_2] (y-wa036) at (1003,1337) {};
  \node[hl=27, label=right:ISC03\_1] (y-isc03) at (939,1398) {};
  \node[hl=35, label=above:RET1\_1] (y-ret1) at (897,1408) {};
  \node[hp=56, label=center:CKGR05\_1] (y-ckgr05) at (915,1468) {};
  \node[hp=53, label=center:BNP01\_1] (y-bnp01) at (987,1456) {};
  \node[hp=27, label=right:LVNP34\_2] (y-lvnp34) at (869,1505) {};
  \node[hp=34, label=right:LVNP31\_2] (y-lvnp31) at (937,1524) {};
  \node[hp=38, label=center:LVNP21\_1] (y-lvnp21) at (891,1550) {};
  \node[hp=27, label=right:SGR07\_1] (y-sgr07) at (967,1555) {};
  \begin{scope}[on background layer]
    \draw[lline=3pt] (y-banp42) to[bend left=50] (y-wa036);
    \draw[pline=5pt] (y-ckgr05) to[bend left=20] (y-bnp01);
    \draw[pline] (y-ckgr05) to[bend right=15] (y-lvnp34);
    \draw[pline] (y-ckgr05) to[bend left=15] (y-lvnp31);
    \draw[pline=3pt] (y-lvnp21) to[bend left=10] (y-lvnp31);
    \draw[pline=2pt] (y-lvnp21) to[bend right=25] (y-sgr07);
    \draw[mt=1] (y-banp41) -- (y-banp42);
    \draw[mt=2] (y-banp42) -- (y-wa036);
    \draw[grayline, mut={5}{4.3pt}] (y-wa036) -- (y-isc03);
    \draw[mt=1] (y-isc03) -- (y-ret1);
    \draw[mt=1] (y-ret1) -- (y-ckgr05);
    \draw[mt=1] (y-ckgr05) -- (y-bnp01);
    \draw[mt=2] (y-ckgr05) -- (y-lvnp34);
    \draw[mt=1] (y-ckgr05) -- (y-lvnp31);
    \draw[grayline] (y-lvnp34) -- (y-lvnp21);
    \draw[mt=1] (y-lvnp31) -- (y-sgr07);
  \end{scope}
\end{tikzpicture}
\end{document}
